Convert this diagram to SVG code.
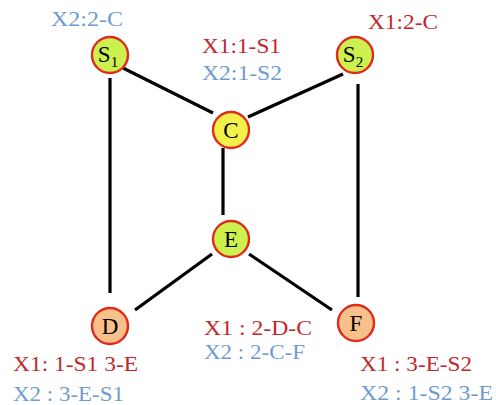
<svg xmlns="http://www.w3.org/2000/svg" width="496" height="405" viewBox="0 0 496 405">
<style>
.edge{stroke:#000;stroke-width:3.2;fill:none}
.n{stroke:#e02a1c;stroke-width:2.4}
.g{fill:#ccf04e}
.y{fill:#f4f04a}
.o{fill:#f8c08a}
.lab{font-family:"Liberation Serif","Times New Roman",serif;font-size:23px;fill:#000;text-anchor:middle}
.t{font-family:"Liberation Serif","Times New Roman",serif;font-size:22px}
.s{font-size:20px}
.r{fill:#c0282e}
.b{fill:#6f9bd2}
</style>
<rect width="496" height="405" fill="#fff"/>
<g id="connectors">
<line class="edge" x1="123" y1="68" x2="213" y2="113"/>
<line class="edge" x1="110" y1="78" x2="110" y2="293"/>
<line class="edge" x1="343" y1="74" x2="248" y2="117"/>
<line class="edge" x1="358" y1="84" x2="358" y2="297"/>
<line class="edge" x1="223" y1="148" x2="223" y2="215"/>
<line class="edge" x1="212" y1="254" x2="135" y2="310"/>
<line class="edge" x1="249" y1="254" x2="332" y2="310"/>
</g>
<g id="S1"><circle class="n g" cx="110" cy="55" r="18"/><text class="lab" x="108" y="62">S<tspan font-size="15" dy="5">1</tspan></text></g>
<g id="S2"><circle class="n g" cx="355" cy="55" r="18"/><text class="lab" x="353" y="62">S<tspan font-size="15" dy="5">2</tspan></text></g>
<g id="C"><circle class="n y" cx="231" cy="130" r="18"/><text class="lab" x="231" y="138">C</text></g>
<g id="E"><circle class="n g" cx="231" cy="239" r="18"/><text class="lab" x="231" y="247">E</text></g>
<g id="D"><circle class="n o" cx="110" cy="326" r="18"/><text class="lab" x="110" y="334">D</text></g>
<g id="F"><circle class="n o" cx="356" cy="323" r="18"/><text class="lab" x="356" y="331">F</text></g>
<g id="labels">
<text class="t b" x="51" y="26" textLength="72" lengthAdjust="spacingAndGlyphs">X2:2-C</text>
<text class="t r" x="202" y="53" textLength="79" lengthAdjust="spacingAndGlyphs">X1:1-S1</text>
<text class="t b" x="202" y="80" textLength="80" lengthAdjust="spacingAndGlyphs">X2:1-S2</text>
<text class="t r" x="368" y="29" textLength="70" lengthAdjust="spacingAndGlyphs">X1:2-C</text>
<text class="t r" x="13" y="371" textLength="125" lengthAdjust="spacingAndGlyphs">X1: 1-S1 3-E</text>
<text class="t b" x="13" y="401" textLength="111" lengthAdjust="spacingAndGlyphs">X2 : 3-E-S1</text>
<text class="t s r" x="204" y="335" textLength="108" lengthAdjust="spacingAndGlyphs">X1 : 2-D-C</text>
<text class="t s b" x="204" y="359" textLength="101" lengthAdjust="spacingAndGlyphs">X2 : 2-C-F</text>
<text class="t r" x="360" y="371" textLength="112" lengthAdjust="spacingAndGlyphs">X1 : 3-E-S2</text>
<text class="t b" x="360" y="400" textLength="133" lengthAdjust="spacingAndGlyphs">X2 : 1-S2 3-E</text>
</g>
</svg>
